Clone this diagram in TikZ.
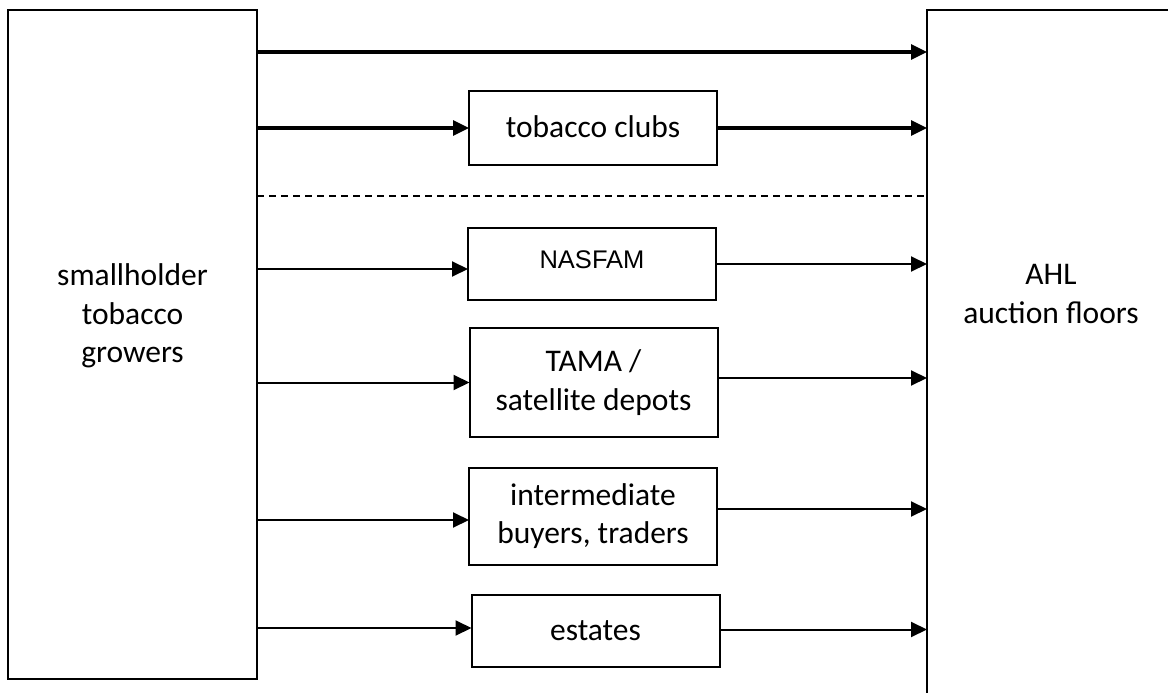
\documentclass[tikz,border=0pt]{standalone}
\usepackage{fontspec}
\setmainfont{Carlito}
\newfontfamily\arialfont{Liberation Sans}
\usetikzlibrary{arrows.meta}

\begin{document}
\begin{tikzpicture}[x=1pt,y=-1pt,
			font=\fontsize{31.5}{38.5}\selectfont,
			every node/.style={inner sep=0pt,outer sep=0pt},
			bigbox/.style={draw,line width=2.2pt,minimum width=249pt},
			chanbox/.style={draw,line width=2pt,minimum width=248pt,align=center},
			oneline/.style={text height=23pt,text depth=5pt},
			flow/.style={line width=2pt,-{Triangle[length=16pt,width=15pt]}},
			mainflow/.style={line width=3.2pt,-{Triangle[length=16pt,width=15pt]}},
			divider/.style={line width=1.5pt,dash pattern=on 7pt off 5pt}]
			\clip (0,0) rectangle (1168,693);
			\node[bigbox,minimum height=669pt] (grow) at (132.5,344.5) {};
			\node[align=center] (growtxt) at (132.5,316) {smallholder\\tobacco\\growers};
			\node[bigbox,minimum height=700pt] (ahl) at (1051.5,360) {};
			\node[align=center] (ahltxt) at (1051,294) {AHL\\auction floors};
			\node[chanbox,oneline,minimum height=74pt] (clubs) at (593,128) {tobacco clubs};
			\node[chanbox,oneline,text depth=15pt,minimum height=72pt,font=\arialfont\fontsize{25.5}{30}\selectfont] (nasfam) at (592,264) {NASFAM};
			\node[chanbox,minimum height=109pt] (tama) at (593.5,382.5) {TAMA /\\satellite depots};
			\node[chanbox,minimum height=97pt] (inter) at (593,516) {intermediate\\buyers, traders};
			\node[chanbox,oneline,minimum height=72pt] (estates) at (595.5,631) {estates};
			\coordinate (split) at (257,196);
			\draw[mainflow] ([yshift=-42pt]grow.north east) -- ([yshift=-42pt]ahl.north west);
			\draw[mainflow] (clubs.west -| grow.east) -- (clubs.west);
			\draw[mainflow] (clubs.east) -- (clubs.east -| ahl.west);
			\draw[divider] (split) -- (split -| ahl.west);
			\draw[flow] ([yshift=-5pt]nasfam.west -| grow.east) -- ([yshift=-5pt]nasfam.west);
			\draw[flow] (nasfam.east) -- (nasfam.east -| ahl.west);
			\draw[flow] (tama.west -| grow.east) -- (tama.west);
			\draw[flow] ([yshift=4.5pt]tama.east) -- ([yshift=4.5pt]tama.east -| ahl.west);
			\draw[flow] ([yshift=-4pt]inter.west -| grow.east) -- ([yshift=-4pt]inter.west);
			\draw[flow] ([yshift=7pt]inter.east) -- ([yshift=7pt]inter.east -| ahl.west);
			\draw[flow] ([yshift=3pt]estates.west -| grow.east) -- ([yshift=3pt]estates.west);
			\draw[flow] ([yshift=1.5pt]estates.east) -- ([yshift=1.5pt]estates.east -| ahl.west);
			\end{tikzpicture}
\end{document}
